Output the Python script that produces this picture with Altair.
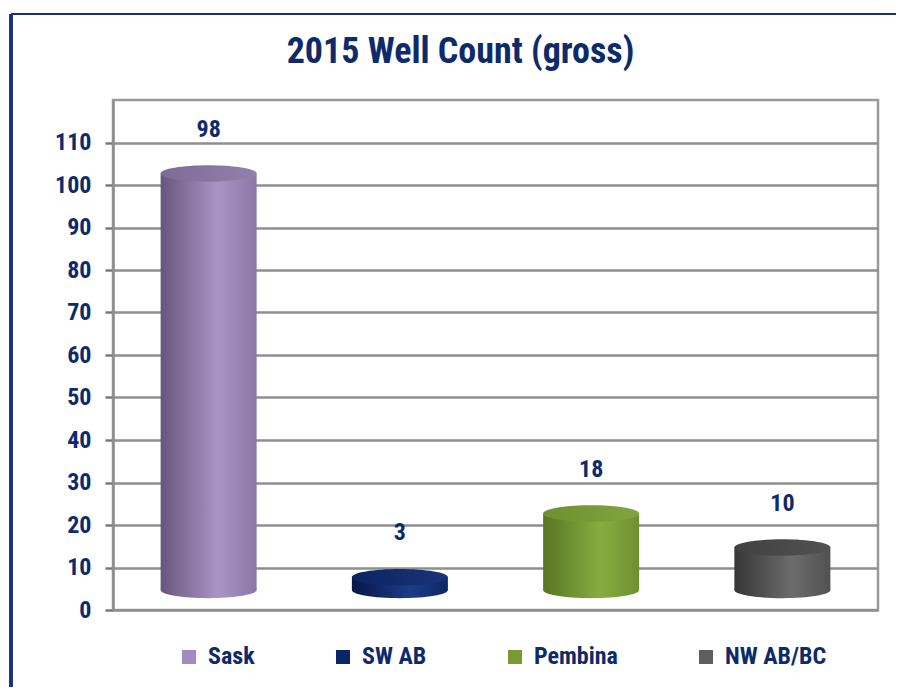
import altair as alt
import pandas as pd

# ---- data ----
categories = ["Sask", "SW AB", "Pembina", "NW AB/BC"]
well_counts = [98, 3, 18, 10]
tick_values = [0, 10, 20, 30, 40, 50, 60, 70, 80, 90, 100, 110]

# ---- colours ----
legend_colors = ["#a08cc2", "#0c2567", "#789a34", "#5f5f5f"]
edge_dark = ["#68557d", "#061747", "#587623", "#363636"]
highlight = ["#a995c6", "#1d3b86", "#88ac40", "#6c6c6c"]
edge_right = ["#8a77a6", "#0e2866", "#6e8f30", "#515151"]
top_left = ["#7e6a97", "#0c2360", "#6f8f31", "#404040"]
top_right = ["#9281ab", "#183478", "#82a43d", "#525252"]

NAVY = "#0d2a6b"
FONT = "Liberation Sans Narrow, Arial Narrow, Roboto Condensed, DejaVu Sans Condensed, sans-serif"
BAR_W = 96
DEPTH = -20  # 3-D lift of the cylinders, pixels
ELLIPSE = "M -1 0 A 1 0.17 0 1 1 1 0 A 1 0.17 0 1 1 -1 0 Z"

df = pd.DataFrame({"region": categories, "wells": well_counts})

x_enc = alt.X("region:N", sort=categories,
              scale=alt.Scale(domain=categories, paddingInner=0, paddingOuter=0),
              axis=None)
y_scale = alt.Scale(domain=[0, 120], nice=False)
y_enc = alt.Y("wells:Q", scale=y_scale,
              axis=alt.Axis(values=tick_values, title=None, grid=True,
                            gridColor="#8e8e8e", gridWidth=2.5,
                            domainColor="#8e8e8e", domainWidth=2.5,
                            tickColor="#7a7a7a", tickSize=8, tickWidth=2.5,
                            labelFont=FONT, labelFontSize=24, labelFontWeight="bold",
                            labelColor=NAVY, labelPadding=14))


def grad(stops):
    return alt.LinearGradient(
        gradient="linear", x1=0, x2=1, y1=0, y2=0,
        stops=[alt.GradientStop(color=c, offset=o) for c, o in stops])


base = alt.Chart(df)
layers = []

# decorative slide panel border
layers.append(base.mark_rule(color="#1b2f7a", strokeWidth=3).encode(
    x=alt.value(-102), y=alt.value(-86), y2=alt.value(600)))
layers.append(base.mark_rule(color="#1b2f7a", strokeWidth=2).encode(
    x=alt.value(-102), x2=alt.value(800), y=alt.value(-86)))

for i, cat in enumerate(categories):
    body = grad([(edge_dark[i], 0), (highlight[i], 0.6), (edge_right[i], 1)])
    top = grad([(top_left[i], 0), (top_right[i], 1)])
    sub = base.transform_filter(alt.datum.region == cat)
    # bottom cap
    layers.append(sub.mark_point(shape=ELLIPSE, size=BAR_W * BAR_W, filled=True,
                                 fill=body, opacity=1, strokeWidth=0,
                                 yOffset=DEPTH).encode(x=x_enc, y=alt.datum(0)))
    # cylinder body
    layers.append(sub.mark_bar(width=BAR_W, fill=body, yOffset=DEPTH, y2Offset=DEPTH)
                  .encode(x=x_enc, y=y_enc, y2=alt.datum(0)))
    # top face
    layers.append(sub.mark_point(shape=ELLIPSE, size=BAR_W * BAR_W, filled=True,
                                 fill=top, opacity=1, strokeWidth=0,
                                 yOffset=DEPTH).encode(x=x_enc, y=y_enc))

# value labels
layers.append(base.mark_text(font=FONT, fontSize=24, fontWeight="bold", color=NAVY,
                             dy=-64).encode(x=x_enc, y=y_enc, text="wells:Q"))

# legend carrier (invisible marks)
layers.append(base.mark_square(opacity=0).encode(
    x=x_enc, y=y_enc,
    color=alt.Color("region:N", sort=categories,
                    scale=alt.Scale(domain=categories, range=legend_colors),
                    legend=alt.Legend(orient="none", legendX=64, legendY=545,
                                      direction="horizontal", title=None,
                                      symbolType="square", symbolSize=196,
                                      symbolOpacity=1, symbolStrokeWidth=0,
                                      labelFont=FONT, labelFontSize=24,
                                      labelFontWeight="bold", labelColor=NAVY,
                                      labelOffset=7, columnPadding=76,
                                      labelLimit=300))))

chart = alt.layer(*layers).properties(
    width=765, height=510,
    title=alt.TitleParams("2015 Well Count (gross)", font=FONT, fontSize=36,
                          fontWeight="bold", color=NAVY, anchor="middle",
                          dx=-35, dy=58, offset=0),
    autosize=alt.AutoSizeParams(type="none"),
    padding={"left": 105, "top": 92, "right": 18, "bottom": 77},
    background="white",
).configure_view(stroke="#9a9a9a", strokeWidth=2.5)

chart.save("out.html", embed_options={"renderer": "svg", "actions": False})
